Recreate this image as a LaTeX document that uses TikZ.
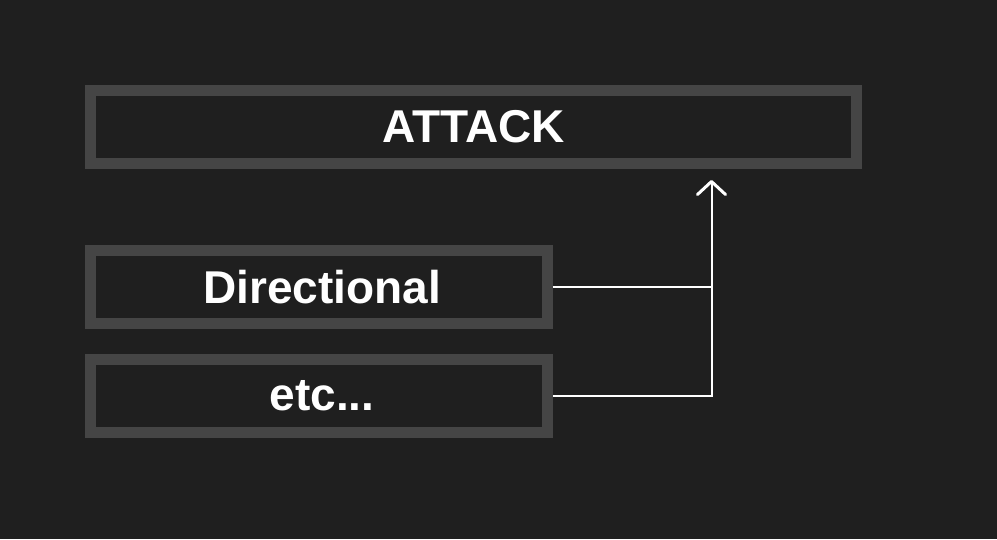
\documentclass[tikz,border=0pt]{standalone}
\usepackage{fontspec}
\setmainfont{Liberation Sans}
\usetikzlibrary{arrows.meta}
\definecolor{bgc}{HTML}{1F1F1F}
\definecolor{boxc}{HTML}{454545}
\tikzset{
  labelbox/.style={draw=boxc, line width=11pt, fill=bgc, rectangle, inner sep=0pt,
    text=white, font=\fontsize{46}{52}\selectfont\bfseries},
  conn/.style={draw=white, line width=2pt},
  arrowconn/.style={conn, -{Straight Barb[length=13pt, width=28pt, line width=3pt, round]}}
}
\begin{document}
\begin{tikzpicture}[x=1pt, y=-1pt]
  \fill[bgc] (0,0) rectangle (997,539);
  \useasboundingbox (0,0) rectangle (997,539);
  \node[labelbox, minimum width=766.5pt, minimum height=73pt] (attack) at (473.7,126.5) {ATTACK};
  \node[labelbox, minimum width=457pt, minimum height=73.5pt] (dir) at (319,287.2) {\hspace*{6pt}Directional};
  \node[labelbox, minimum width=457pt, minimum height=73pt] (etc) at (319,396) {\hspace*{6pt}etc...};
  \coordinate (top) at (711.5,180);
  \draw[arrowconn] (etc.east) -| (top);
  \draw[conn] (dir.east) -- (dir.east -| top);
\end{tikzpicture}
\end{document}
